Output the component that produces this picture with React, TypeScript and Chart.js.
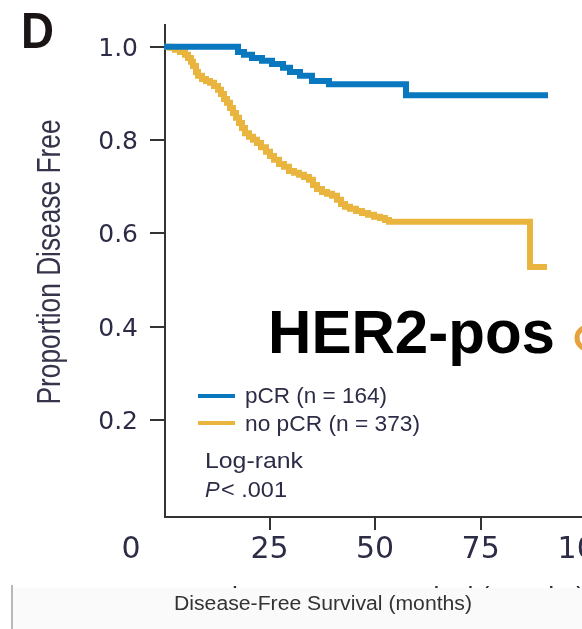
import React, { useEffect, useRef } from "react";
import { Chart, registerables } from "chart.js";

Chart.register(...registerables);

// pCR (n = 164)
const pcrTimes = [0, 17.53, 18.95, 20.84, 23.21, 25.58, 28.19, 29.84, 32.21, 35.05, 39.08, 57.32, 90.95];
const pcrSurv = [1.0, 0.989, 0.983, 0.976, 0.97, 0.963, 0.955, 0.946, 0.938, 0.927, 0.92, 0.896, 0.896];

// no pCR (n = 373)
const noPcrTimes = [
  0, 1.42, 2.61, 3.79, 4.97, 5.68, 6.4, 6.87, 7.58, 8.05, 9.0, 9.95, 10.9, 11.84, 12.79, 13.5, 14.21, 14.92,
  15.63, 16.34, 17.05, 17.76, 18.47, 19.18, 20.13, 21.08, 22.03, 22.97, 24.16, 25.11, 26.05, 27.24, 28.42,
  29.61, 30.79, 31.98, 33.16, 34.34, 35.29, 36.24, 37.42, 38.61, 39.79, 40.98, 41.92, 42.87, 44.05, 45.48,
  46.9, 48.32, 49.74, 51.16, 52.35, 53.29, 86.69, 90.72,
];
const noPcrSurv = [
  1.0, 0.998, 0.994, 0.989, 0.983, 0.976, 0.968, 0.959, 0.946, 0.938, 0.931, 0.927, 0.923, 0.916, 0.908, 0.899,
  0.888, 0.88, 0.869, 0.858, 0.848, 0.837, 0.826, 0.815, 0.807, 0.801, 0.794, 0.785, 0.775, 0.766, 0.758,
  0.749, 0.743, 0.734, 0.73, 0.726, 0.721, 0.715, 0.704, 0.695, 0.689, 0.685, 0.681, 0.672, 0.663, 0.657,
  0.653, 0.648, 0.644, 0.64, 0.636, 0.633, 0.629, 0.625, 0.528, 0.528,
];

const yTicks = [0.2, 0.4, 0.6, 0.8, 1.0];
const yTickLabels = ["0.2", "0.4", "0.6", "0.8", "1.0"];
const xTicks = [25, 50, 75, 100];
const xTickLabels = ["25", "50", "75", "100"];
const xZeroLabel = "0";

const legendLabels = ["pCR (n = 164)", "no pCR (n = 373)"];
const BLUE = "#0a78be";
const YELLOW = "#e9b53e";
const TEXT = "#2c2c46";

function drawText(
  ctx: CanvasRenderingContext2D,
  s: string,
  x: number,
  y: number,
  font: string,
  color: string,
  align: "left" | "center" | "right",
  width?: number
) {
  ctx.save();
  ctx.font = font;
  ctx.fillStyle = color;
  ctx.textBaseline = "alphabetic";
  ctx.textAlign = "left";
  const w = ctx.measureText(s).width;
  const sx = width ? width / w : 1;
  const tw = w * sx;
  const x0 = align === "left" ? x : align === "center" ? x - tw / 2 : x - tw;
  ctx.translate(x0, y);
  ctx.scale(sx, 1);
  ctx.fillText(s, 0, 0);
  ctx.restore();
}

const decorPlugin = {
  id: "decor",
  beforeDatasetsDraw(chart: any) {
    const ctx: CanvasRenderingContext2D = chart.ctx;
    const xs = chart.scales.x;
    const ys = chart.scales.y;
    const area = chart.chartArea;
    const x0 = xs.getPixelForValue(0) + 1;
    ctx.save();
    ctx.strokeStyle = "#333333";
    ctx.lineWidth = 2;
    ctx.beginPath();
    ctx.moveTo(x0, area.top);
    ctx.lineTo(x0, area.bottom);
    ctx.lineTo(area.right + 20, area.bottom);
    ctx.stroke();
    yTicks.forEach((v) => {
      const py = Math.round(ys.getPixelForValue(v));
      ctx.beginPath();
      ctx.moveTo(x0 - 15, py);
      ctx.lineTo(x0, py);
      ctx.stroke();
    });
    xTicks.forEach((v) => {
      const px = Math.round(xs.getPixelForValue(v));
      ctx.beginPath();
      ctx.moveTo(px, area.bottom);
      ctx.lineTo(px, area.bottom + 13);
      ctx.stroke();
    });
    ctx.restore();
  },
  afterDraw(chart: any) {
    const ctx: CanvasRenderingContext2D = chart.ctx;
    const xs = chart.scales.x;
    const ys = chart.scales.y;
    const sans = '"Liberation Sans", Arial, sans-serif';
    const dv = '"DejaVu Sans", sans-serif';

    // y tick labels
    yTicks.forEach((v, i) => {
      drawText(ctx, yTickLabels[i], 138, ys.getPixelForValue(v) + 9, `25px ${dv}`, TEXT, "right");
    });
    // x tick labels
    xTicks.forEach((v, i) => {
      drawText(ctx, xTickLabels[i], xs.getPixelForValue(v), 558, `30px ${dv}`, TEXT, "center");
    });
    drawText(ctx, xZeroLabel, xs.getPixelForValue(0) - 33, 558, `30px ${dv}`, TEXT, "center");

    // y title
    ctx.save();
    ctx.translate(60, 262);
    ctx.rotate(-Math.PI / 2);
    drawText(ctx, "Proportion Disease Free", 0, 0, `33px ${sans}`, "#34344a", "center", 285);
    ctx.restore();

    // panel letter
    drawText(ctx, "D", 21, 48, `bold 50px ${sans}`, "#1a1414", "left", 33);

    // big label
    drawText(ctx, "HER2-pos", 268, 353, `bold 62px ${sans}`, "#000000", "left", 287);
    ctx.save();
    ctx.strokeStyle = "#e8a23c";
    ctx.lineWidth = 5;
    ctx.beginPath();
    ctx.arc(588, 338, 11, 0, Math.PI * 2);
    ctx.stroke();
    ctx.restore();

    // legend
    ctx.save();
    ctx.lineWidth = 4;
    ctx.strokeStyle = BLUE;
    ctx.beginPath();
    ctx.moveTo(198, 396);
    ctx.lineTo(235, 396);
    ctx.stroke();
    ctx.strokeStyle = YELLOW;
    ctx.beginPath();
    ctx.moveTo(198, 423);
    ctx.lineTo(235, 423);
    ctx.stroke();
    ctx.restore();
    drawText(ctx, legendLabels[0], 245, 403, `22px ${sans}`, TEXT, "left", 142);
    drawText(ctx, legendLabels[1], 245, 431, `22px ${sans}`, TEXT, "left", 175);
    drawText(ctx, "Log-rank", 205, 468, `22px ${sans}`, TEXT, "left", 98);
    drawText(ctx, "P", 205, 497, `italic 22px ${sans}`, TEXT, "left");
    drawText(ctx, "< .001", 221, 497, `22px ${sans}`, TEXT, "left", 66);

    // x-axis title (partially covered large version + small caption)
    ctx.save();
    ctx.beginPath();
    ctx.rect(0, 570, 582, 18);
    ctx.clip();
    drawText(ctx, "Disease-Free Survival (months)", 213, 608, `30px ${sans}`, TEXT, "left", 372);
    ctx.restore();
    ctx.save();
    ctx.fillStyle = "#fafafa";
    ctx.fillRect(13, 588, 569, 41);
    ctx.strokeStyle = "#b8b8b8";
    ctx.lineWidth = 2;
    ctx.beginPath();
    ctx.moveTo(12, 585);
    ctx.lineTo(12, 629);
    ctx.stroke();
    ctx.restore();
    drawText(ctx, "Disease-Free Survival (months)", 174, 610, `20px ${sans}`, "#333333", "left", 298);
  },
};

export default function App() {
  const ref = useRef<HTMLCanvasElement | null>(null);
  useEffect(() => {
    document.body.style.margin = "0";
    document.body.style.overflow = "hidden";
    const canvas = ref.current!;
    const chart = new Chart(canvas, {
      type: "line",
      data: {
        datasets: [
          {
            label: legendLabels[0],
            data: pcrTimes.map((t, i) => ({ x: t, y: pcrSurv[i] })),
            borderColor: BLUE,
            borderWidth: 6,
            stepped: "before",
            pointRadius: 0,
            fill: false,
            clip: false,
            borderJoinStyle: "miter",
          },
          {
            label: legendLabels[1],
            data: noPcrTimes.map((t, i) => ({ x: t, y: noPcrSurv[i] })),
            borderColor: YELLOW,
            borderWidth: 6,
            stepped: "before",
            pointRadius: 0,
            fill: false,
            clip: false,
            borderJoinStyle: "miter",
          },
        ],
      },
      options: {
        animation: false,
        responsive: false,
        devicePixelRatio: 1,
        layout: { padding: { left: 164, right: 0, top: 24, bottom: 112 } },
        plugins: { legend: { display: false }, tooltip: { enabled: false } },
        scales: {
          x: { type: "linear", min: 0, max: 99, display: false },
          y: { type: "linear", min: -0.008, max: 1.049, display: false },
        },
      },
      plugins: [decorPlugin],
    } as any);
    return () => chart.destroy();
  }, []);
  return (
    <div style={{ width: 582, height: 629, background: "#ffffff" }}>
      <canvas ref={ref} width={582} height={629} style={{ width: 582, height: 629, display: "block" }} />
    </div>
  );
}
